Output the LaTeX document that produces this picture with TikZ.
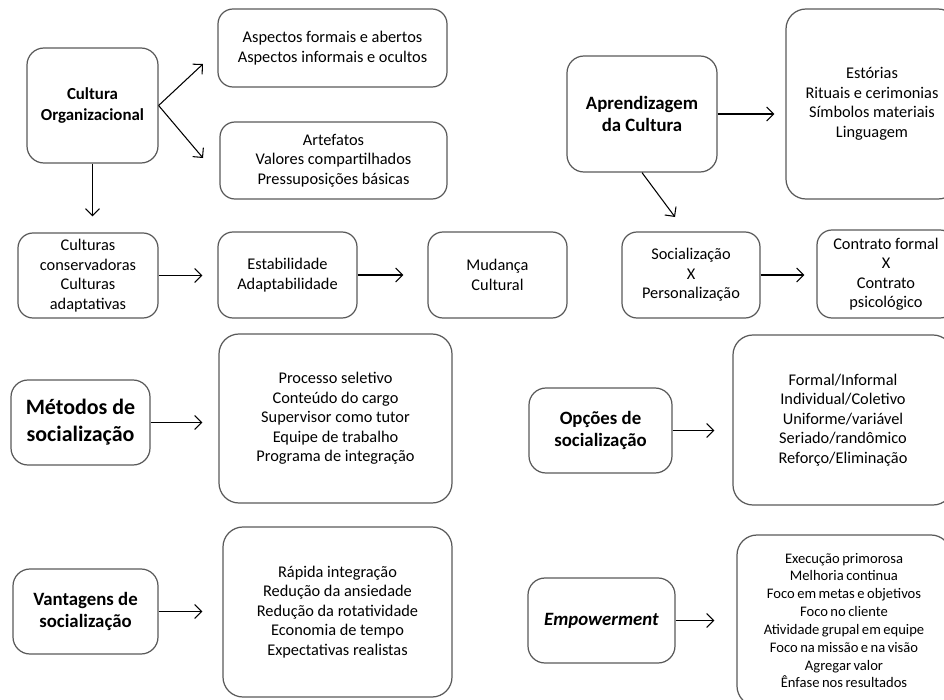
\documentclass[tikz,border=0pt]{standalone}
\usepackage{fontspec}
\setmainfont{Carlito}
\usepackage{tikz}
\usetikzlibrary{arrows.meta,positioning}
\tikzstyle{box}=[draw=black!65, line width=0.7pt, rounded corners=0.3cm, align=center, inner sep=0pt, font=\fontsize{9.3}{11.1}\selectfont]
\tikzstyle{bigbox}=[box, rounded corners=0.4cm]
\tikzstyle{head}=[box, rounded corners=0.34cm, font=\bfseries\fontsize{10.7}{13}\selectfont]
\tikzstyle{arr}=[-{Straight Barb[length=1.4mm,width=2.8mm]}, line width=0.6pt]
\tikzset{sz/.style 2 args={minimum width=#1*0.02cm, minimum height=#2*0.02cm}}

\begin{document}
\begin{tikzpicture}
[x=0.02cm, y=-0.02cm]
 \useasboundingbox (0,0) rectangle (944,700);
 \clip (0,0) rectangle (944,700);
 \node[head, sz={131}{115}, font=\bfseries\fontsize{9.6}{12}\selectfont] (cult) at (92.5,105.5) {Cultura\\Organizacional};
 \node[box, sz={229}{78}] (aspec) at (332.5,48) {Aspectos formais e abertos\\Aspectos informais e ocultos};
 \node[box, sz={227}{77}] (artef) at (333.5,160.5) {Artefatos\\Valores compartilhados\\Pressuposições básicas};
 \node[box, sz={140}{85}] (tipos) at (88,275.5) {Culturas\\conservadoras\\Culturas\\adaptativas};
 \node[box, sz={139}{86}] (estab) at (287.5,275) {Estabilidade\\Adaptabilidade};
 \node[box, sz={139}{86}] (mudan) at (497.5,275) {Mudança\\Cultural};
 \node[head, sz={150}{116}] (aprend) at (642,114) {Aprendizagem\\da Cultura};
 \node[bigbox, sz={172}{190}] (estor) at (872,104) {Estórias\\Rituais e cerimonias\\Símbolos materiais\\Linguagem};
 \node[box, sz={138}{86}] (socia) at (691,275) {Socialização\\X\\Personalização};
 \node[box, sz={138}{88}] (contr) at (886,274) {Contrato formal\\X\\Contrato\\psicológico};
 \node[head, sz={139}{85}, font=\bfseries\fontsize{12.5}{15.3}\selectfont] (metod) at (80.5,422.5) {Métodos de\\socialização};
 \node[bigbox, sz={233}{169}] (proc) at (335.5,418.5) {Processo seletivo\\Conteúdo do cargo\\Supervisor como tutor\\Equipe de trabalho\\Programa de integração};
 \node[head, sz={145}{85}] (vantag) at (85.5,611.5) {Vantagens de\\socialização};
 \node[bigbox, sz={229}{170}] (rapid) at (337.5,612) {Rápida integração\\Redução da ansiedade\\Redução da rotatividade\\Economia de tempo\\Expectativas realistas};
 \node[head, sz={143}{85}] (opcoes) at (600.5,430.5) {Opções de\\socialização};
 \node[bigbox, sz={220}{170}] (formal) at (843,420) {Formal/Informal\\Individual/Coletivo\\Uniforme/variável\\Seriado/randômico\\Reforço/Eliminação};
 \node[head, sz={147}{85}] (empow) at (601.5,620.5) {\textit{Empowerment}};
 \node[bigbox, sz={214}{171}, font={\fontsize{8.3}{10.15}\selectfont\spaceskip=0.17em\relax}] (exec) at (844,620.5) {Execução primorosa\\Melhoria continua\\Foco em metas e objetivos\\Foco no cliente\\Atividade grupal em equipe\\Foco na missão e na visão\\Agregar valor\\Ênfase nos resultados};
 \coordinate (t1) at (203,64);
 \coordinate (t2) at (203,158);
 \coordinate (t3) at (675,217);
 \draw[arr] (cult.east) -- (t1);
 \draw[arr] (cult.east) -- (t2);
 \draw[arr, shorten >=0.32cm] (cult.south) -- (cult.south |- tipos.north);
 \draw[arr, shorten >=0.3cm] (tipos.east) -- (tipos.east -| estab.west);
 \draw[arr, shorten >=0.48cm] (estab.east) -- (estab.east -| mudan.west);
 \draw[arr, shorten >=0.22cm] (aprend.east) -- (aprend.east -| estor.west);
 \draw[arr] (aprend.south) -- (t3);
 \draw[arr, shorten >=0.24cm] (socia.east) -- (socia.east -| contr.west);
 \draw[arr, shorten >=0.32cm] (metod.east) -- (metod.east -| proc.west);
 \draw[arr, shorten >=0.4cm] (vantag.east) -- (vantag.east -| rapid.west);
 \draw[arr, shorten >=0.36cm] (opcoes.east) -- (opcoes.east -| formal.west);
 \draw[arr, shorten >=0.44cm] (empow.east) -- (empow.east -| exec.west);
\end{tikzpicture}
\end{document}
